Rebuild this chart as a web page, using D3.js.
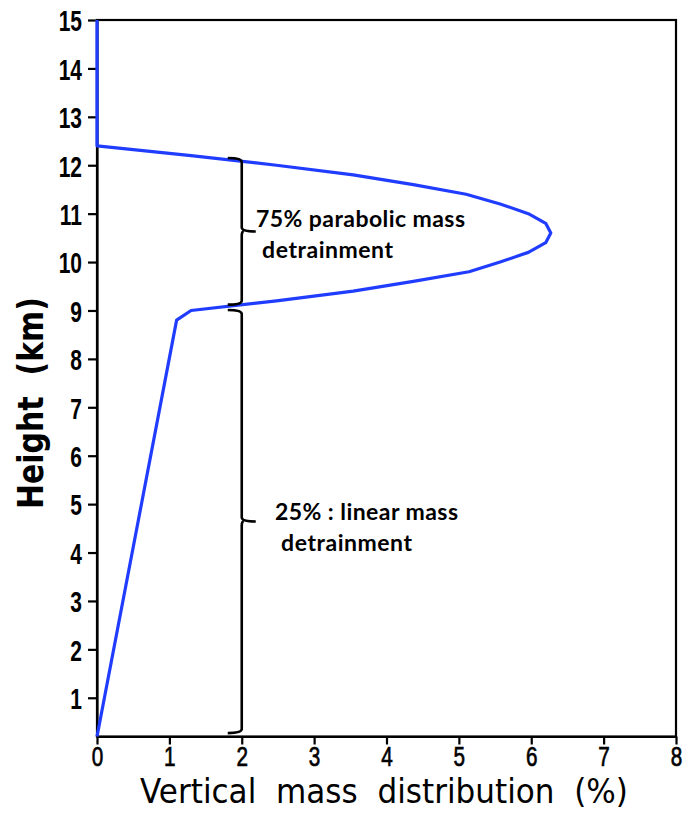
<!DOCTYPE html>
<html>
<head>
<meta charset="utf-8">
<script src="https://cdn.jsdelivr.net/npm/d3@7/dist/d3.min.js"></script>
<style>
  body { margin: 0; background: #fff; }
  .axis path, .axis line { stroke: #000; stroke-width: 2.2; }
  .y.axis text { font-family: "Liberation Sans", sans-serif; font-weight: bold; font-size: 30px; fill: #000; }
  .x.axis text { font-family: "Liberation Sans", sans-serif; font-size: 28px; fill: #000; stroke: #000; stroke-width: 0.7; }
  .note { font-family: Lato, "Open Sans", sans-serif; font-weight: bold; font-size: 23px; fill: #000; }
</style>
</head>
<body>
<svg width="684" height="813"></svg>
<script>
// **** Data ****
// height (km) and vertical mass distribution (%) of the profile, bottom to top
var heights = [0.2, 8.8, 9.0, 9.2, 9.4, 9.6, 9.8, 10.0, 10.2, 10.4, 10.6,
               10.8, 11.0, 11.2, 11.4, 11.6, 11.8, 12.0, 12.2, 12.4, 15.0];
var massPct = [0.0, 1.1, 1.3, 2.48, 3.54, 4.37, 5.14, 5.57, 5.96, 6.2, 6.27,
               6.2, 5.96, 5.57, 5.1, 4.37, 3.54, 2.48, 1.3, 0.0, 0.0];

var xTicks = [0, 1, 2, 3, 4, 5, 6, 7, 8];
var yTicks = [1, 2, 3, 4, 5, 6, 7, 8, 9, 10, 11, 12, 13, 14, 15];

// braces: top, bottom, middle tip (km) at x = 2 %
var braceTop = [12.15, 9.01];
var braceBottom = [9.12, 0.27];
var braceTip = [10.63, 4.64];
var noteLines = [["75% parabolic mass", " detrainment"], ["25% : linear mass", " detrainment"]];

// **** Scales and axes ****
var xScale = d3.scaleLinear().domain([0, 8]).range([97, 676]);
var yScale = d3.scaleLinear().domain([0.2, 15]).range([736.5, 20]);

var svg = d3.select('svg');
var squeeze = 0.7;   // the plot font is narrow

// frame
svg.append('rect')
    .attr('x', xScale(0)).attr('y', yScale(15))
    .attr('width', xScale(8) - xScale(0))
    .attr('height', yScale(0.2) - yScale(15))
    .attr('fill', 'none').attr('stroke', '#000').attr('stroke-width', 2.2);

var xAxis = svg.append('g').attr('class', 'x axis')
    .attr('transform', 'translate(0,' + yScale(0.2) + ')')
    .call(d3.axisBottom(xScale).tickValues(xTicks).tickSize(8).tickSizeOuter(0).tickPadding(3));
xAxis.selectAll('text')
    .attr('dy', '0.66em')
    .attr('transform', 'scale(' + (squeeze + 0.04) + ',1)');

var yAxis = svg.append('g').attr('class', 'y axis')
    .attr('transform', 'translate(' + xScale(0) + ',0)')
    .call(d3.axisLeft(yScale).tickValues(yTicks).tickSize(9).tickSizeOuter(0).tickPadding(6));
yAxis.selectAll('text')
    .attr('dy', '0.36em')
    .attr('x', -15 / squeeze)
    .attr('transform', 'scale(' + squeeze + ',1)');

// axis titles
svg.append('text')
    .attr('x', 140).attr('y', 803)
    .attr('textLength', 488).attr('lengthAdjust', 'spacingAndGlyphs')
    .style('font-family', '"DejaVu Sans", sans-serif')
    .style('font-size', '33px')
    .attr('xml:space', 'preserve')
    .style('white-space', 'pre')
    .text('Vertical  mass  distribution  (%)');

svg.append('text')
    .attr('transform', 'translate(43,403) rotate(-90)')
    .attr('text-anchor', 'middle')
    .attr('textLength', 212).attr('lengthAdjust', 'spacingAndGlyphs')
    .style('font-family', '"DejaVu Sans", sans-serif')
    .style('font-weight', 'bold')
    .style('font-size', '36px')
    .attr('xml:space', 'preserve')
    .style('white-space', 'pre')
    .text('Height  (km)');

// **** Profile line ****
var profile = heights.map(function(h, i) { return {h: h, v: massPct[i]}; });

svg.append('path')
    .datum(profile)
    .attr('fill', 'none')
    .attr('stroke', '#1f3cff')
    .attr('stroke-width', 3.2)
    .attr('stroke-linejoin', 'round')
    .attr('d', d3.line().x(function(d) { return xScale(d.v); }).y(function(d) { return yScale(d.h); }));

// **** Braces and notes ****
function bracePath(x, top, tip, bottom) {
    var w = 14, r = 4;
    return 'M' + (x - w) + ',' + top +
        ' Q' + x + ',' + top + ' ' + x + ',' + (top + r) +
        ' L' + x + ',' + (tip - r) +
        ' Q' + x + ',' + tip + ' ' + (x + w) + ',' + tip +
        ' M' + x + ',' + (tip + r) +
        ' Q' + x + ',' + tip + ' ' + (x + 2) + ',' + tip +
        ' M' + x + ',' + (tip + r) +
        ' L' + x + ',' + (bottom - r) +
        ' Q' + x + ',' + bottom + ' ' + (x - w) + ',' + bottom;
}

braceTop.forEach(function(t, i) {
    svg.append('path')
        .attr('d', bracePath(xScale(2), yScale(t), yScale(braceTip[i]), yScale(braceBottom[i])))
        .attr('fill', 'none').attr('stroke', '#000').attr('stroke-width', 2.6);
});

var noteX = [256, 275];
var noteY = [227, 520];
var noteW = [[209, 137], [183, 137]];
noteLines.forEach(function(lines, i) {
    lines.forEach(function(s, j) {
        svg.append('text')
            .attr('class', 'note')
            .attr('x', noteX[i]).attr('y', noteY[i] + j * 31)
            .attr('textLength', noteW[i][j]).attr('lengthAdjust', 'spacing')
            .attr('xml:space', 'preserve')
            .style('white-space', 'pre')
            .text(s);
    });
});
</script>
</body>
</html>
